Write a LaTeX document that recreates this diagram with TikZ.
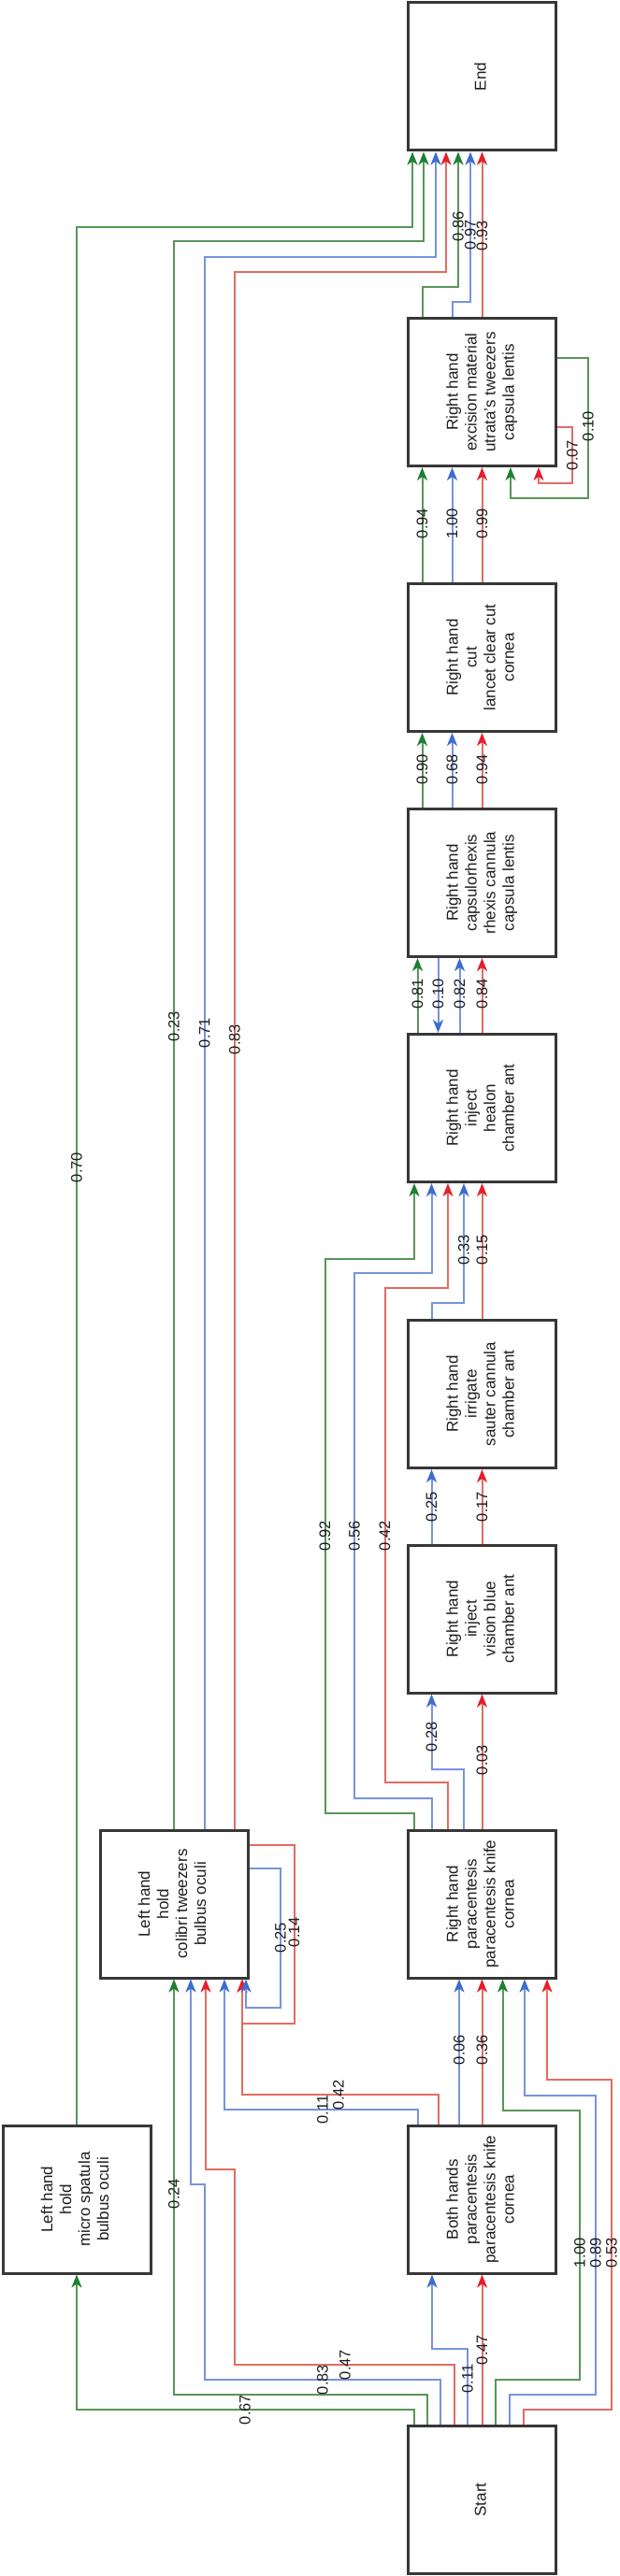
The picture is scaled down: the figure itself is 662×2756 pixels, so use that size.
\documentclass[tikz,border=0pt]{standalone}
\usepackage{fontspec}
\usepackage{graphicx}
\setmainfont{Liberation Sans}
\usetikzlibrary{arrows.meta}
\definecolor{lg}{RGB}{88,150,88}
\definecolor{lb}{RGB}{118,148,222}
\definecolor{lr}{RGB}{226,108,98}
\definecolor{ag}{RGB}{28,128,50}
\definecolor{ab}{RGB}{60,108,208}
\definecolor{ar}{RGB}{232,30,42}
\definecolor{boxc}{RGB}{55,55,55}
\definecolor{txt}{RGB}{30,30,30}
\newcommand\rottext[1]{\rotatebox{90}{\begin{tabular}{@{}c@{}}#1\end{tabular}}}
\tikzset{
  box/.style={draw=boxc, line width=3pt, minimum width=158pt, minimum height=158pt, inner sep=0pt, font=\fontsize{17}{20}\selectfont, text=txt},
  lab/.style={rotate=90, inner sep=0pt, font=\fontsize{16.5}{18}\selectfont, text=txt},
  tip/.style={-{Stealth[length=14pt,width=11pt,inset=4pt,color=#1]}},
  garr/.style={draw=lg, line width=2pt, tip=ag},
  barr/.style={draw=lb, line width=2pt, tip=ab},
  rarr/.style={draw=lr, line width=2pt, tip=ar},
}
\begin{document}
\begin{tikzpicture}[x=1pt,y=-1pt]
\useasboundingbox (0,0) rectangle (662,2756);
% boxes
\node[box] (E) at (515.5,82) {\rottext{End}};
\node[box] (X) at (515.5,419.5) {\rottext{Right hand\\excision material\\utrata's tweezers\\capsula lentis}};
\node[box] (U) at (515.5,703.5) {\rottext{Right hand\\cut\\lancet clear cut\\cornea}};
\node[box] (K) at (515.5,944.5) {\rottext{Right hand\\capsulorhexis\\rhexis cannula\\capsula lentis}};
\node[box] (H) at (515.5,1185.5) {\rottext{Right hand\\inject\\healon\\chamber ant}};
\node[box] (I) at (515.5,1491.5) {\rottext{Right hand\\irrigate\\sauter cannula\\chamber ant}};
\node[box] (V) at (515.5,1732) {\rottext{Right hand\\inject\\vision blue\\chamber ant}};
\node[box] (R) at (515.5,2037) {\rottext{Right hand\\paracentesis\\paracentesis knife\\cornea}};
\node[box] (B) at (515.5,2353) {\rottext{Both hands\\paracentesis\\paracentesis knife\\cornea}};
\node[box] (S) at (515.5,2674.5) {\rottext{Start}};
\node[box] (P) at (82,2353) {\rottext{Left hand\\hold\\micro spatula\\bulbus oculi}};
\node[box] (C) at (186,2037) {\rottext{Left hand\\hold\\colibri tweezers\\bulbus oculi}};

% Start outgoing
\draw[garr] ([xshift=-73pt]S.north) -- (442.5,2578) -- (262,2578) node[lab]{0.67} -- (82,2578) -- (P.south);
\draw[garr] ([xshift=-58.5pt]S.north) -- (457,2562) -- (186,2562) -- (186,2347) node[lab]{0.24} -- (C.south);
\draw[barr] ([xshift=-44.5pt]S.north) -- (471,2546) -- (345,2546) node[lab]{0.83} -- (218.7,2546) -- (218.7,2337) -- (204,2337) -- ([xshift=18pt]C.south);
\draw[rarr] ([xshift=-30pt]S.north) -- (485.5,2530) -- (369,2530) node[lab]{0.47} -- (251,2530) -- (251,2321) -- (220,2321) -- ([xshift=34pt]C.south);
\draw[barr] ([xshift=-15.5pt]S.north) -- (500,2545) node[lab]{0.11} -- (500,2513) -- (462,2513) -- ([xshift=-53.5pt]B.south);
\draw[rarr] (S.north) -- (515.5,2514) node[lab]{0.47} -- (B.south);
\draw[garr] ([xshift=14.5pt]S.north) -- (530,2546) -- (620,2546) -- (620,2410) node[lab]{1.00} -- (620,2258) -- (537.5,2258) -- ([xshift=22pt]R.south);
\draw[barr] ([xshift=29pt]S.north) -- (544.5,2562) -- (637,2562) -- (637,2410) node[lab]{0.89} -- (637,2242) -- (561,2242) -- ([xshift=45.5pt]R.south);
\draw[rarr] ([xshift=44pt]S.north) -- (559.5,2578) -- (654,2578) -- (654,2410) node[lab]{0.53} -- (654,2225) -- (585,2225) -- ([xshift=69.5pt]R.south);

% Both hands outgoing
\draw[barr] ([xshift=-24.5pt]B.north) -- (491,2193) node[lab]{0.06} -- ([xshift=-24.5pt]R.south);
\draw[rarr] (B.north) -- (515.5,2193) node[lab]{0.36} -- (R.south);
\draw[barr] ([xshift=-69pt]B.north) -- (446.5,2257) -- (345,2257) node[lab]{0.11} -- (240,2257) -- ([xshift=54pt]C.south);
\draw[rarr] ([xshift=-47pt]B.north) -- (468.5,2241) -- (362,2241) node[lab]{0.42} -- (259,2241) -- ([xshift=73pt]C.south);

% Colibri self loops and to End
\draw[rarr] ([yshift=63pt]C.east) -- (314.5,1974) -- (314.5,2067) node[lab]{0.14} -- (314.5,2165) -- (259,2165) -- ([xshift=73pt]C.south);
\draw[barr] ([yshift=38pt]C.east) -- (300,1999) -- (300,2073) node[lab]{0.25} -- (300,2148) -- (263,2148) -- ([xshift=77pt]C.south);
\draw[garr] (C.north) -- (186,1098) node[lab]{0.23} -- (186,258) -- (453,258) -- ([xshift=-62.5pt]E.south);
\draw[barr] ([xshift=32.7pt]C.north) -- (218.7,1105) node[lab]{0.71} -- (218.7,275) -- (466,275) -- ([xshift=-49.5pt]E.south);
\draw[rarr] ([xshift=65pt]C.north) -- (251,1112) node[lab]{0.83} -- (251,291) -- (477,291) -- ([xshift=-38.5pt]E.south);

% Spatula to End
\draw[garr] (P.north) -- (82,1249) node[lab]{0.70} -- (82,243) -- (441,243) -- ([xshift=-74.5pt]E.south);

% Right paracentesis outgoing
\draw[garr] ([xshift=-72.5pt]R.north) -- (443,1940) -- (347.5,1940) -- (347.5,1643) node[lab]{0.92} -- (347.5,1347) -- (443,1347) -- ([xshift=-72.5pt]H.south);
\draw[barr] ([xshift=-54pt]R.north) -- (461.5,1924) -- (379,1924) -- (379,1643) node[lab]{0.56} -- (379,1362) -- (461.5,1362) -- ([xshift=-54pt]H.south);
\draw[rarr] ([xshift=-36.5pt]R.north) -- (479,1907) -- (411.5,1907) -- (411.5,1643) node[lab]{0.42} -- (411.5,1378) -- (479,1378) -- ([xshift=-36.5pt]H.south);
\draw[barr] ([xshift=-19.5pt]R.north) -- (496,1893) -- (461.5,1893) -- (461.5,1858) node[lab]{0.28} -- ([xshift=-54pt]V.south);
\draw[rarr] (R.north) -- (515.5,1883) node[lab]{0.03} -- (V.south);

% Vision -> Irrigate
\draw[barr] ([xshift=-54pt]V.north) -- (461.5,1612) node[lab]{0.25} -- ([xshift=-54pt]I.south);
\draw[rarr] (V.north) -- (515.5,1612) node[lab]{0.17} -- (I.south);

% Irrigate -> Healon
\draw[barr] ([xshift=-54pt]I.north) -- (461.5,1394) -- (496,1394) -- (496,1337) node[lab]{0.33} -- ([xshift=-19.5pt]H.south);
\draw[rarr] (I.north) -- (515.5,1337) node[lab]{0.15} -- (H.south);

% Healon <-> Capsulorhexis
\draw[garr] ([xshift=-69pt]H.north) -- (446.5,1063) node[lab]{0.81} -- ([xshift=-69pt]K.south);
\draw[barr] ([xshift=-47pt]K.south) -- (468.5,1063) node[lab]{0.10} -- ([xshift=-47pt]H.north);
\draw[barr] ([xshift=-24pt]H.north) -- (491.5,1063) node[lab]{0.82} -- ([xshift=-24pt]K.south);
\draw[rarr] (H.north) -- (515.5,1063) node[lab]{0.84} -- (K.south);

% Capsulorhexis -> Cut
\draw[garr] ([xshift=-64pt]K.north) -- (451.5,823) node[lab]{0.90} -- ([xshift=-64pt]U.south);
\draw[barr] ([xshift=-32pt]K.north) -- (483.5,823) node[lab]{0.68} -- ([xshift=-32pt]U.south);
\draw[rarr] (K.north) -- (515.5,823) node[lab]{0.94} -- (U.south);

% Cut -> Excision
\draw[garr] ([xshift=-64pt]U.north) -- (451.5,560) node[lab]{0.94} -- ([xshift=-64pt]X.south);
\draw[barr] ([xshift=-32pt]U.north) -- (483.5,560) node[lab]{1.00} -- ([xshift=-32pt]X.south);
\draw[rarr] (U.north) -- (515.5,560) node[lab]{0.99} -- (X.south);

% Excision self loops
\draw[rarr] ([yshift=-37.5pt]X.east) -- (612,457) -- (612,487) node[lab]{0.07} -- (612,517) -- (576,517) -- ([xshift=60.5pt]X.south);
\draw[garr] ([yshift=36.5pt]X.east) -- (629,383) -- (629,456) node[lab]{0.10} -- (629,533) -- (546,533) -- ([xshift=30.5pt]X.south);

% Excision -> End
\draw[garr] ([xshift=-64pt]X.north) -- (451.5,307) -- (490,307) -- (490,242) node[lab]{0.86} -- ([xshift=-25.5pt]E.south);
\draw[barr] ([xshift=-32pt]X.north) -- (483.5,323) -- (503,323) -- (503,251) node[lab]{0.97} -- ([xshift=-12.5pt]E.south);
\draw[rarr] (X.north) -- (515.5,252) node[lab]{0.93} -- (E.south);
\end{tikzpicture}
\end{document}
